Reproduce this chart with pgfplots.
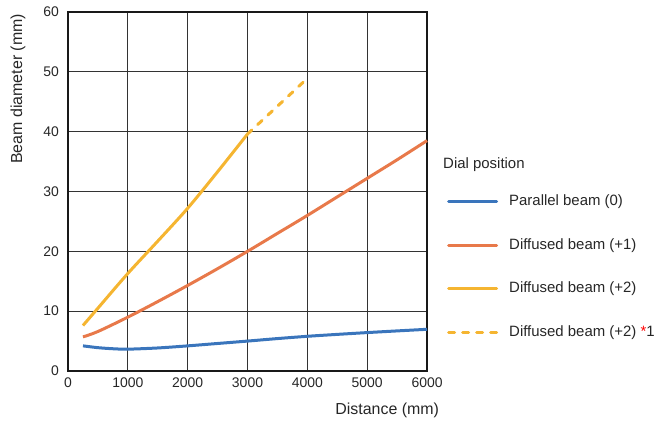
\documentclass[border=0pt]{standalone}
\usepackage{pgfplots}
\pgfplotsset{compat=1.18}
\usepackage{fontspec}
\setmainfont{Liberation Sans}
\definecolor{cblue}{HTML}{3A75BC}
\definecolor{corange}{HTML}{E8794A}
\definecolor{cyellow}{HTML}{F5B531}
\definecolor{cgrid}{HTML}{333333}
\begin{document}
\begin{tikzpicture}
\begin{axis}[
  scale only axis, width=359bp, height=359bp,
  xmin=0, xmax=6000, ymin=0, ymax=60,
  xtick={0,1000,2000,3000,4000,5000,6000},
  xticklabels={0,1000,2000,3000,4000,5000,6000},
  ytick={0,10,20,30,40,50,60},
  yticklabels={0,10,20,30,40,50,60},
  major tick length=0pt,
  grid=major,
  major grid style={cgrid, line width=0.9bp},
  axis line style={line width=2.5bp, black!90},
  tick label style={font=\fontsize{14}{16}\selectfont, text=black!85},
  xticklabel style={inner sep=0pt, yshift=-7bp},
  yticklabel style={inner sep=0pt, xshift=-9bp},
  xlabel={Distance (mm)},
  ylabel={Beam diameter (mm)},
  label style={font=\fontsize{16}{18}\selectfont, text=black!85},
  xlabel style={at={(rel axis cs:0.889,-0.109)}, anchor=center, inner sep=0pt},
  ylabel style={at={(rel axis cs:-0.139,0.786)}, anchor=center, rotate=0, inner sep=0pt},
  clip=false,
  legend cell align=left,
  legend image code/.code={\draw[#1, line cap=round] (0bp,0bp) -- (48bp,0bp);},
  legend style={at={(rel axis cs:1.0557,0.491)}, anchor=north west, draw=none, fill=none,
    inner sep=0pt, row sep=29.5bp, column sep=11bp,
    font=\fontsize{15}{17}\selectfont, text=black!85,
    nodes={inner sep=0pt, text height=11bp, text depth=3bp}},
]
\addplot[cblue, line width=3bp, smooth, tension=0.5] coordinates {
(250,4.2) (500,3.9) (750,3.72) (1000,3.65) (1500,3.85) (2000,4.2) (2500,4.6) (3000,5.0) (3500,5.42) (4000,5.8) (4500,6.12) (5000,6.42) (5500,6.7) (6000,6.97)};
\addlegendentry{Parallel beam (0)}
\addplot[corange, line width=3bp, smooth, tension=0.5] coordinates {
(250,5.7) (500,6.6) (1000,9.0) (1500,11.6) (2000,14.3) (2500,17.1) (3000,20.0) (3500,23.0) (4000,26.0) (4500,29.1) (5000,32.2) (5500,35.3) (6000,38.5)};
\addlegendentry{Diffused beam (+1)}
\addplot[cyellow, line width=3bp, smooth, tension=0.5] coordinates {
(250,7.6) (500,10.5) (1000,16.3) (1500,21.7) (2000,27.2) (2500,33.3) (3000,39.6)};
\addlegendentry{Diffused beam (+2)}
\addplot[cyellow, line width=3bp, line cap=round, dash pattern=on 6bp off 8bp] coordinates {
(3000,39.6) (4000,48.9)};
\addlegendentry{Diffused beam (+2) {\color{red}*}1}
\node[anchor=west, inner sep=0pt, font=\fontsize{15}{17}\selectfont, text=black!85] at (rel axis cs:1.0446,0.5738) {Dial position};
\coordinate (bl) at (rel axis cs:-0.1894,-0.1448);
\coordinate (tr) at (rel axis cs:1.6657,1.0334);
\end{axis}
\path[use as bounding box] (bl) rectangle (tr);
\end{tikzpicture}
\end{document}
